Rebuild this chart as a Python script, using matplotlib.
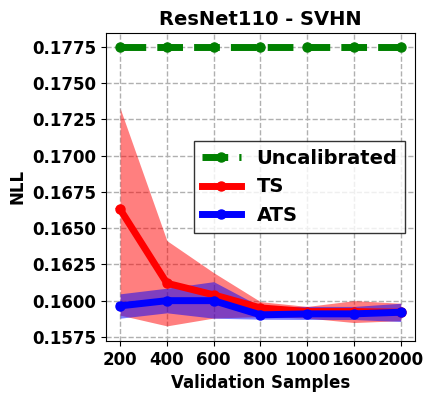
import matplotlib
matplotlib.use("Agg")
import matplotlib.pyplot as plt
import numpy as np

samples = ["200", "400", "600", "800", "1000", "1600", "2000"]
uncal = [0.1775, 0.1775, 0.1775, 0.1775, 0.1775, 0.1775, 0.1775]
ts = [0.1663, 0.1612, 0.1604, 0.1595, 0.15925, 0.15925, 0.1592]
ts_low = [0.1590, 0.15826, 0.1588, 0.1589, 0.1588, 0.15849, 0.15862]
ts_high = [0.17327, 0.16414, 0.16193, 0.15993, 0.1596, 0.1600, 0.15982]
ats = [0.15964, 0.1600, 0.1600, 0.15902, 0.15909, 0.15909, 0.1592]
ats_low = [0.15879, 0.15916, 0.15879, 0.15872, 0.1587, 0.1587, 0.15856]
ats_high = [0.16047, 0.16086, 0.16131, 0.1596, 0.1596, 0.1596, 0.15982]

plt.rcParams['font.weight'] = 'bold'
plt.rcParams['axes.labelweight'] = 'bold'
plt.rcParams['axes.titleweight'] = 'bold'

fig = plt.figure(figsize=(4.33, 3.96), dpi=100)
ax = fig.add_axes([0.245, 0.139, 0.958 - 0.245, 0.917 - 0.139])
x = np.arange(len(samples))

ax.fill_between(x, ts_low, ts_high, color='red', alpha=0.5, linewidth=0)
ax.fill_between(x, ats_low, ats_high, color='blue', alpha=0.5, linewidth=0)
ax.plot(x, uncal, color='green', linestyle='--', marker='o', linewidth=5, markersize=6.5, label='Uncalibrated')
ax.plot(x, ts, color='red', marker='o', linewidth=5, markersize=6.5, label='TS')
ax.plot(x, ats, color='blue', marker='o', linewidth=5, markersize=6.5, label='ATS')

ax.set_xticks(x)
ax.set_xticklabels(samples)
ax.set_yticks([0.1575, 0.1600, 0.1625, 0.1650, 0.1675, 0.1700, 0.1725, 0.1750, 0.1775])
ax.set_yticklabels([f"{v:.4f}" for v in ax.get_yticks()])
ax.set_ylim(0.15722, 0.17847)
ax.tick_params(labelsize=12)
ax.grid(True, linestyle='--', color='#b0b0b0', linewidth=1)
ax.set_axisbelow(True)
ax.set_xlabel('Validation Samples', fontsize=12, fontweight='bold')
ax.set_ylabel('NLL', fontsize=12, fontweight='bold')
ax.set_title('ResNet110 - SVHN', fontsize=14, fontweight='bold')
leg = ax.legend(loc='center right', fancybox=False, edgecolor='black', prop={'weight': 'bold', 'size': 14})

fig.savefig('out.png', dpi=100)
